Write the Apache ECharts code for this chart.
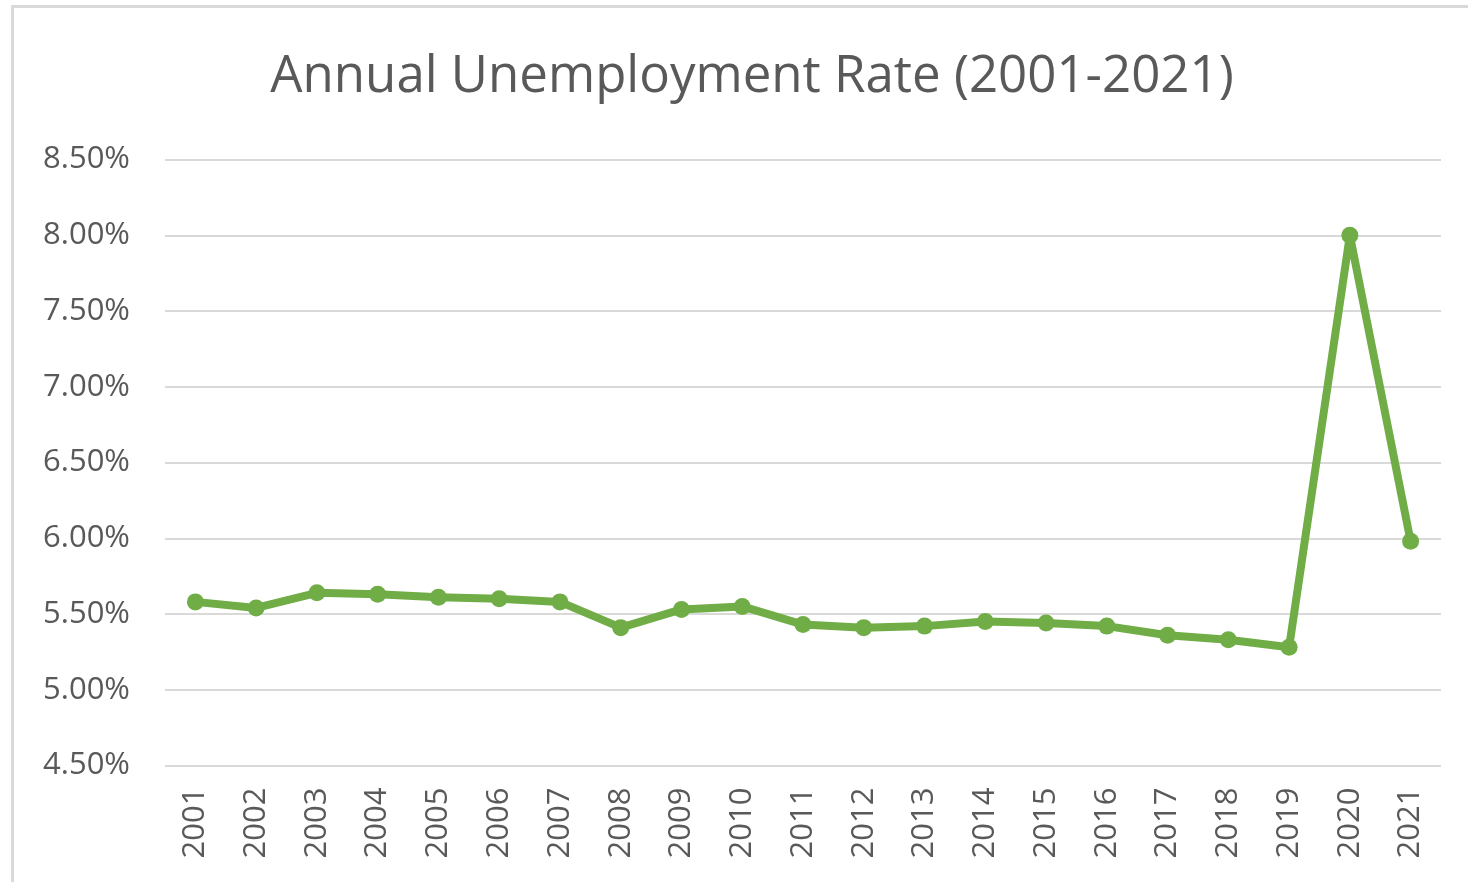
<!DOCTYPE html>
<html>
<head>
<meta charset="utf-8">
<title>Annual Unemployment Rate (2001-2021)</title>
<script src="https://cdn.jsdelivr.net/npm/echarts@6/dist/echarts.min.js"></script>
<style>
  html, body { margin: 0; padding: 0; background: #ffffff; }
  #chart { width: 1468px; height: 882px; }
</style>
</head>
<body>
<div id="chart"></div>
<script>
// Years on the category axis
const years = ['2001','2002','2003','2004','2005','2006','2007','2008','2009','2010',
               '2011','2012','2013','2014','2015','2016','2017','2018','2019','2020','2021'];

// Annual unemployment rate, in percent
const unemploymentRate = [5.58, 5.54, 5.64, 5.63, 5.61, 5.60, 5.58, 5.41, 5.53, 5.55,
                          5.43, 5.41, 5.42, 5.45, 5.44, 5.42, 5.36, 5.33, 5.28, 8.00, 5.98];

// Value axis range and step, in percent
const yMin = 4.5;
const yMax = 8.5;
const yStep = 0.5;

const titleText = 'Annual Unemployment Rate (2001-2021)';

const textColor = '#595959';
const gridColor = '#d9d9d9';
const lineColor = '#70ad47';
const fontFamily = '"Open Sans", "Noto Sans", sans-serif';

const chart = echarts.init(document.getElementById('chart'), null, { renderer: 'canvas' });

chart.setOption({
  backgroundColor: '#ffffff',
  animation: false,
  graphic: [{
    type: 'rect',
    silent: true,
    shape: { x: 12.5, y: 6.5, width: 1600, height: 1000 },
    style: { fill: 'none', stroke: gridColor, lineWidth: 3 }
  }],
  title: {
    text: titleText,
    left: 747,
    top: 47,
    textAlign: 'center',
    textStyle: {
      color: textColor,
      fontFamily: fontFamily,
      fontWeight: 'normal',
      fontSize: 51
    }
  },
  grid: {
    left: 165,
    right: 27,
    top: 159.5,
    bottom: 116.5,
    containLabel: false
  },
  xAxis: {
    type: 'category',
    data: years,
    boundaryGap: true,
    axisLine: { show: false },
    axisTick: { show: false },
    axisLabel: {
      rotate: 90,
      margin: 22,
      color: textColor,
      fontFamily: fontFamily,
      fontSize: 31
    }
  },
  yAxis: {
    type: 'value',
    min: yMin,
    max: yMax,
    interval: yStep,
    axisLine: { show: false },
    axisTick: { show: false },
    splitLine: { lineStyle: { color: gridColor, width: 2 } },
    axisLabel: {
      margin: 35,
      color: textColor,
      fontFamily: fontFamily,
      fontSize: 31,
      formatter: v => v.toFixed(2) + '%'
    }
  },
  series: [{
    type: 'line',
    data: unemploymentRate,
    symbol: 'circle',
    symbolSize: 17,
    itemStyle: { color: lineColor },
    lineStyle: { color: lineColor, width: 8, join: 'round' }
  }]
});
</script>
</body>
</html>
